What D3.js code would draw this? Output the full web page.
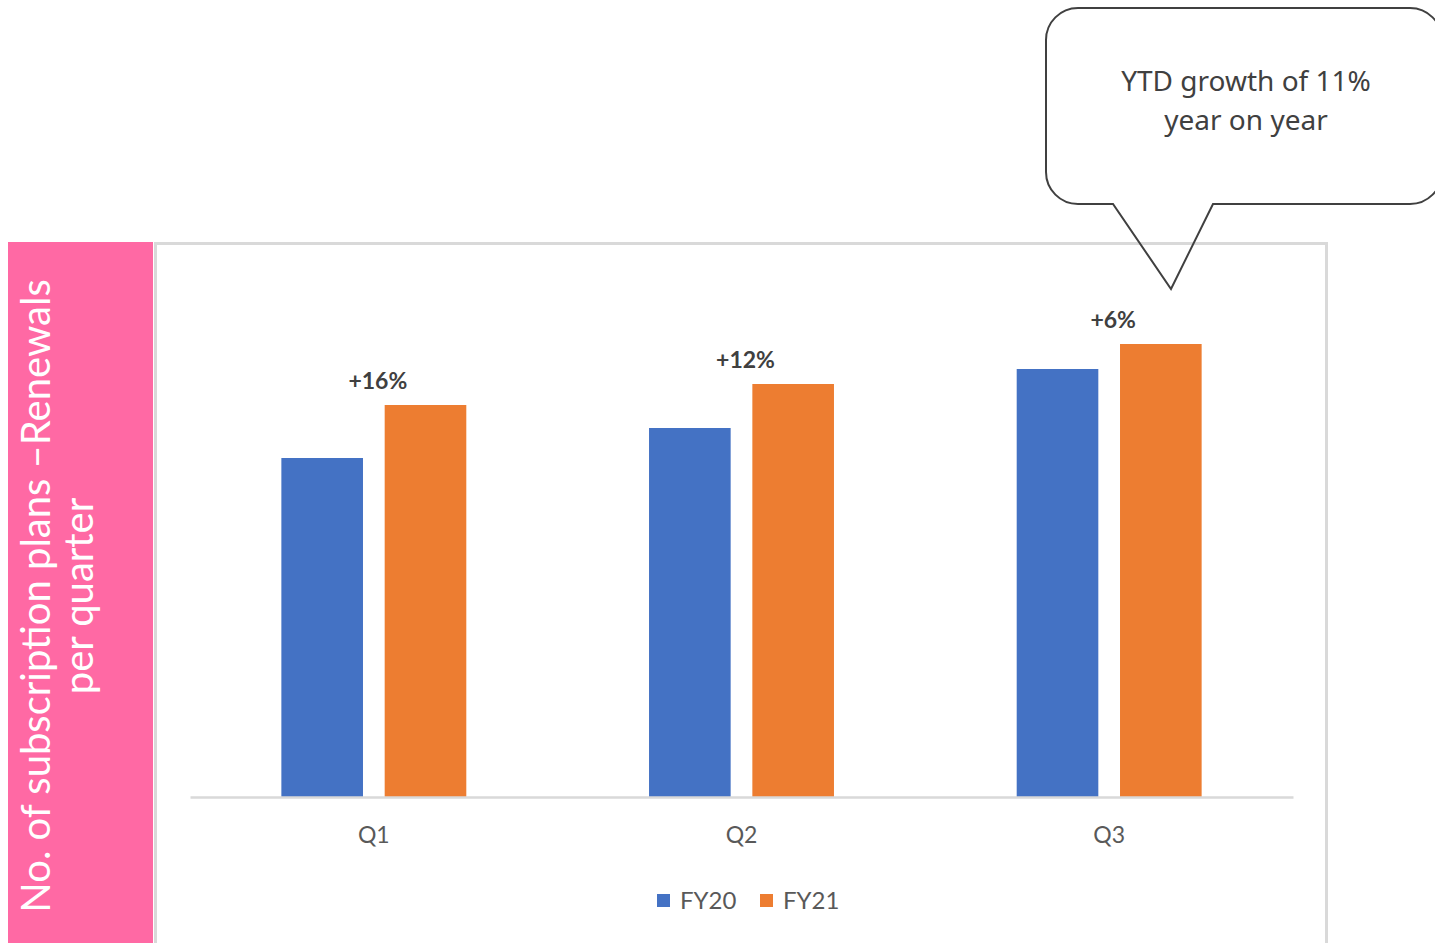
<!DOCTYPE html>
<html>
<head>
<meta charset="utf-8">
<script src="https://cdn.jsdelivr.net/npm/d3@7"></script>
<style>
  html, body { margin: 0; padding: 0; background: #fff; }
  svg { display: block; }
</style>
</head>
<body>
<svg id="chart" width="1435" height="943"></svg>
<script>
// ---- data ----
const categories = ["Q1", "Q2", "Q3"];
const seriesNames = ["FY20", "FY21"];
const fy20 = [339, 369, 428];
const fy21 = [392, 413, 453];
const growthLabels = ["+16%", "+12%", "+6%"];
const yAxisTitle = ["No. of subscription plans \u2013Renewals", "per quarter"];
const calloutText = ["YTD growth of 11%", "year on year"];
const colors = ["#4472C4", "#ED7D31"];

const svg = d3.select("#chart");
const font = "Lato, 'Noto Sans', sans-serif";

// pink y-title panel
svg.append("rect").attr("x", 8).attr("y", 242).attr("width", 145).attr("height", 710)
  .attr("fill", "#FF69A4");
const yt = svg.append("text")
  .attr("transform", "translate(0,596) rotate(-90)")
  .attr("text-anchor", "middle").attr("fill", "#fff")
  .style("font-family", font).style("font-size", "40px");
yt.append("tspan").attr("x", 0).attr("y", 50).text(yAxisTitle[0]);
yt.append("tspan").attr("x", 0).attr("y", 93).text(yAxisTitle[1]);

// chart frame
svg.append("rect").attr("x", 155.5).attr("y", 243.5).attr("width", 1171).attr("height", 720)
  .attr("fill", "none").attr("stroke", "#d9d9d9").attr("stroke-width", 3);

// scales
const x0 = d3.scaleBand().domain(categories).range([190, 1293])
  .paddingInner(0.497).paddingOuter(0.2485);
const x1 = d3.scaleBand().domain(seriesNames).range([0, x0.bandwidth()])
  .paddingInner(0.21).paddingOuter(0);
const y = d3.scaleLinear().domain([0, 555]).range([797, 242]);

const data = categories.map((c, i) => ({cat: c, vals: [fy20[i], fy21[i]], label: growthLabels[i]}));

const groups = svg.append("g").selectAll("g").data(data).join("g")
  .attr("transform", d => `translate(${x0(d.cat)},0)`);
groups.selectAll("rect").data(d => d.vals.map((v, j) => ({s: seriesNames[j], v, j})))
  .join("rect")
  .attr("x", d => x1(d.s)).attr("width", x1.bandwidth())
  .attr("y", d => y(d.v)).attr("height", d => y(0) - y(d.v))
  .attr("fill", d => colors[d.j]);

// growth labels
groups.append("text")
  .attr("x", x0.bandwidth() / 2 + 4)
  .attr("y", d => y(d.vals[1]) - 16)
  .attr("text-anchor", "middle").attr("fill", "#404040")
  .style("font-family", font).style("font-weight", "bold").style("font-size", "23px")
  .text(d => d.label);

// x axis
const ax = svg.append("g").attr("transform", `translate(0,${y(0)})`)
  .call(d3.axisBottom(x0).tickSize(0).tickPadding(30));
ax.select(".domain").attr("stroke", "#d9d9d9").attr("stroke-width", 2.5);
ax.selectAll("text").attr("fill", "#595959")
  .style("font-family", font).style("font-size", "23px");

// legend
const legend = svg.append("g").attr("transform", "translate(657,894)");
const legX = [0, 103];
seriesNames.forEach((s, i) => {
  const g = legend.append("g").attr("transform", `translate(${legX[i]},0)`);
  g.append("rect").attr("width", 13).attr("height", 13).attr("fill", colors[i]);
  g.append("text").attr("x", 23).attr("y", 15).attr("fill", "#595959")
    .style("font-family", font).style("font-size", "24px").text(s);
});

// callout
const cx0 = 1046, cy0 = 8, cx1 = 1442, cy1 = 204, r = 32;
const tipL = 1113, tipR = 1213, tipX = 1171, tipY = 289;
const p = d3.path();
p.moveTo(cx0 + r, cy0);
p.lineTo(cx1 - r, cy0);
p.arcTo(cx1, cy0, cx1, cy0 + r, r);
p.lineTo(cx1, cy1 - r);
p.arcTo(cx1, cy1, cx1 - r, cy1, r);
p.lineTo(tipR, cy1);
p.lineTo(tipX, tipY);
p.lineTo(tipL, cy1);
p.lineTo(cx0 + r, cy1);
p.arcTo(cx0, cy1, cx0, cy1 - r, r);
p.lineTo(cx0, cy0 + r);
p.arcTo(cx0, cy0, cx0 + r, cy0, r);
p.closePath();
svg.append("path").attr("d", p.toString()).attr("fill", "none")
  .attr("stroke", "#404040").attr("stroke-width", 2);
const ct = svg.append("text").attr("text-anchor", "middle").attr("fill", "#404040")
  .style("font-family", "'Noto Sans', 'Open Sans', sans-serif").style("font-size", "28px");
calloutText.forEach((t, i) => {
  ct.append("tspan").attr("x", 1246).attr("y", 91 + i * 39).text(t);
});
</script>
</body>
</html>
